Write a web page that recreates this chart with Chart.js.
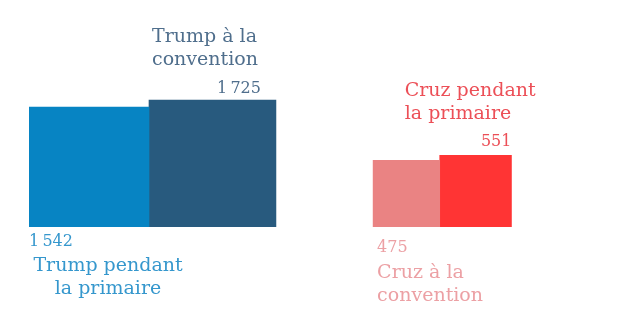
<!DOCTYPE html>
<html lang="fr">
<head>
<meta charset="utf-8">
<script src="https://cdn.jsdelivr.net/npm/chart.js@4.4.0/dist/chart.umd.min.js"></script>
<style>
  html, body { margin: 0; padding: 0; background: #fff; }
  #wrap { width: 644px; height: 322px; }
</style>
</head>
<body>
<div id="wrap"><canvas id="delegues"></canvas></div>
<script>
const candidats = ['Trump', 'Cruz'];
const primaire = [1542, 551];
const convention = [1725, 475];

// surface du carré proportionnelle au nombre de délégués : côté = racine
const ECHELLE = 3.056;   // px par unité de côté
const ECART = 31.8;      // espace entre les deux candidats (unités)
const PAD_LEFT = 29, PAD_BOTTOM = 95;
const W = 644, H = 322;
const FONT = '"DejaVu Serif", serif';

const couleurs = {
  Trump: { primaire: '#0784c3', convention: '#285a7e' },
  Cruz: { primaire: '#ff3434', convention: '#ea8383' }
};
const couleursTexte = {
  Trump: { primaire: '#3597cd', convention: '#4f6e8c' },
  Cruz: { primaire: '#ec4f57', convention: '#eca0a4' }
};

// où placer le nombre et le libellé autour de chaque carré
const placements = {
  'Trump-primaire':   { num: { x: 'left', dx: 0, align: 'left', y: 'bottom', dy: 19 },
                        txt: { x: 'center', dx: 19, align: 'center', y: 'bottom', dy: 44 } },
  'Trump-convention': { num: { x: 'right', dx: -15, align: 'right', y: 'top', dy: -7 },
                        txt: { x: 'left', dx: 3, align: 'left', y: 'top', dy: -58 } },
  'Cruz-primaire':    { num: { x: 'right', dx: 0, align: 'right', y: 'top', dy: -9 },
                        txt: { x: 'left', dx: -35, align: 'left', y: 'top', dy: -59 } },
  'Cruz-convention':  { num: { x: 'left', dx: 4, align: 'left', y: 'bottom', dy: 25 },
                        txt: { x: 'left', dx: 4, align: 'left', y: 'bottom', dy: 51 } }
};

function formatNombre(v) {
  return String(v).replace(/\B(?=(\d{3})+(?!\d))/g, '\u202F');
}

function libelle(candidat, phase) {
  return phase === 'primaire'
    ? [candidat + ' pendant', 'la primaire']
    : [candidat + ' à la', 'convention'];
}

function buildDatasets() {
  const datasets = [];
  let curseur = 0;
  candidats.forEach((c, i) => {
    const morceaux = [
      { phase: 'primaire', v: primaire[i] },
      { phase: 'convention', v: convention[i] }
    ].sort((a, b) => a.v - b.v);
    morceaux.forEach(m => {
      const cote = Math.sqrt(m.v);
      datasets.push({
        label: c + ' ' + m.phase,
        candidat: c,
        phase: m.phase,
        valeur: m.v,
        data: [{ x: curseur + cote / 2, y: cote }],
        backgroundColor: couleurs[c][m.phase],
        barThickness: cote * ECHELLE,
        borderWidth: 0
      });
      curseur += cote;
    });
    curseur += ECART;
  });
  return datasets;
}

const etiquettesPlugin = {
  id: 'etiquettes',
  afterDatasetsDraw(chart) {
    const ctx = chart.ctx;
    chart.data.datasets.forEach((ds, i) => {
      const bar = chart.getDatasetMeta(i).data[0];
      if (!bar) return;
      const p = bar.getProps(['x', 'y', 'base', 'width'], true);
      const box = {
        left: p.x - p.width / 2, right: p.x + p.width / 2, center: p.x,
        top: p.y, bottom: p.base
      };
      const pl = placements[ds.candidat + '-' + ds.phase];
      ctx.save();
      ctx.fillStyle = couleursTexte[ds.candidat][ds.phase];
      ctx.textBaseline = 'alphabetic';

      ctx.font = '16px ' + FONT;
      ctx.textAlign = pl.num.align;
      ctx.fillText(formatNombre(ds.valeur), box[pl.num.x] + pl.num.dx, box[pl.num.y] + pl.num.dy);

      ctx.font = '19px ' + FONT;
      ctx.textAlign = pl.txt.align;
      libelle(ds.candidat, ds.phase).forEach((ligne, k) => {
        ctx.fillText(ligne, box[pl.txt.x] + pl.txt.dx, box[pl.txt.y] + pl.txt.dy + k * 22.5);
      });
      ctx.restore();
    });
  }
};

new Chart(document.getElementById('delegues'), {
  type: 'bar',
  data: { datasets: buildDatasets() },
  options: {
    responsive: true,
    maintainAspectRatio: false,
    animation: false,
    grouped: false,
    layout: { padding: { left: PAD_LEFT, right: 0, top: 0, bottom: PAD_BOTTOM } },
    plugins: {
      legend: { display: false },
      tooltip: { enabled: false }
    },
    scales: {
      x: { type: 'linear', display: false, offset: false, min: 0, max: (W - PAD_LEFT) / ECHELLE },
      y: { type: 'linear', display: false, min: 0, max: (H - PAD_BOTTOM) / ECHELLE }
    }
  },
  plugins: [etiquettesPlugin]
});
</script>
</body>
</html>
